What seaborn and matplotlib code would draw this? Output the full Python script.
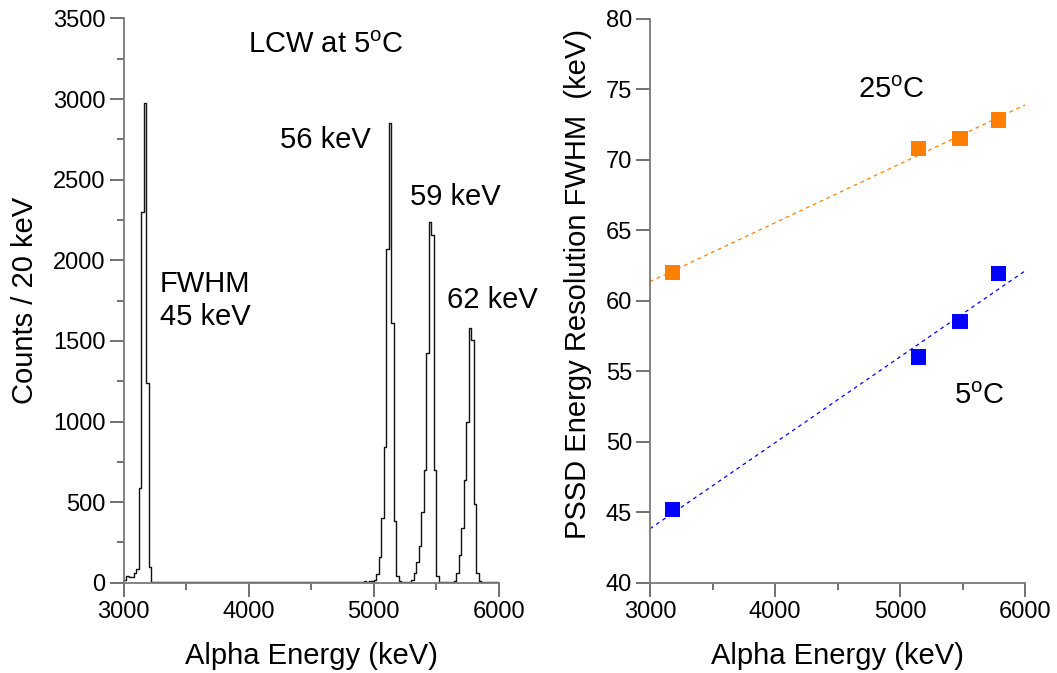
import numpy as np
import pandas as pd
import matplotlib
matplotlib.use("Agg")
import matplotlib.pyplot as plt
from matplotlib.ticker import MultipleLocator
import seaborn as sns

# ---------------- data ----------------
# Left panel: alpha spectrum, 20 keV bins from 3000 to 6000 keV
bin_start = 3000
bin_width = 20
counts = [
    15, 42, 33, 33, 58, 83, 586, 2300, 2975, 1240,      # 3000-3180
    100, 6, 4, 3, 5, 4, 3, 6, 4, 3,                     # 3200-3380
    5, 3, 4, 6, 3, 4, 5, 3, 4, 6,                       # 3400-3580
    3, 5, 4, 3, 6, 4, 3, 5, 4, 3,                       # 3600-3780
    4, 6, 3, 5, 4, 3, 5, 4, 6, 3,                       # 3800-3980
    4, 3, 5, 4, 3, 6, 4, 3, 5, 4,                       # 4000-4180
    3, 5, 4, 6, 3, 4, 5, 3, 4, 3,                       # 4200-4380
    5, 4, 3, 6, 4, 5, 3, 4, 6, 4,                       # 4400-4580
    3, 5, 4, 3, 6, 4, 5, 3, 4, 5,                       # 4600-4780
    4, 6, 5, 4, 7, 5, 8, 7, 10, 12,                     # 4800-4980
    15, 55, 161, 402, 841, 2071, 2852, 1609, 382, 40,   # 5000-5180
    8, 6, 7, 5, 6, 15, 59, 130, 225, 439,               # 5200-5380
    700, 1425, 2238, 2159, 700, 43, 6, 5, 4, 5,         # 5400-5580
    6, 5, 8, 63, 174, 341, 636, 999, 1580, 1508,        # 5600-5780
    491, 63, 8, 5, 4, 6, 5, 4, 7, 5,                    # 5800-5980
]
peak_labels = ["56 keV", "59 keV", "62 keV"]
title_text = "LCW at 5$^{\\rm o}$C"
fwhm_text = "FWHM\n45 keV"

# Right panel: energy resolution vs alpha energy
alpha_energy = [3180, 5150, 5480, 5790]
fwhm_25C = [62.0, 70.8, 71.5, 72.8]
fwhm_5C = [45.2, 56.0, 58.5, 61.9]
series_names = ["25$^{\\rm o}$C", "5$^{\\rm o}$C"]

# ---------------- style ----------------
sns.set_theme(style="ticks")
plt.rcParams["font.family"] = ["Liberation Sans", "DejaVu Sans"]
plt.rcParams["mathtext.fontset"] = "custom"
plt.rcParams["mathtext.rm"] = "Liberation Sans"
plt.rcParams["mathtext.it"] = "Liberation Sans:italic"
plt.rcParams["text.color"] = "black"
plt.rcParams["axes.labelcolor"] = "black"
plt.rcParams["xtick.labelcolor"] = "black"
plt.rcParams["ytick.labelcolor"] = "black"

spine_col = "#7a7a7a"
tick_col = "#4a4a4a"
tick_fs = 17
label_fs = 21
ann_fs = 21

fig = plt.figure(figsize=(10.57, 6.73), dpi=100)
axL = fig.add_axes([123.6 / 1057, 1 - 582.7 / 673, 375 / 1057, 564.2 / 673])
axR = fig.add_axes([650 / 1057, 1 - 582.7 / 673, 375 / 1057, 564.2 / 673])

# ---------------- left: spectrum ----------------
nb = len(counts)
centers = bin_start + bin_width * np.arange(nb) + bin_width / 2
df_spec = pd.DataFrame({"energy": centers, "counts": counts})
sns.histplot(data=df_spec, x="energy", weights="counts", binwidth=bin_width,
             binrange=(bin_start, bin_start + bin_width * nb),
             element="step", fill=False, color="#111111", linewidth=1.0, ax=axL)
axL.set_xlim(3000, 6000)
axL.set_ylim(0, 3500)
axL.xaxis.set_major_locator(MultipleLocator(1000))
axL.xaxis.set_minor_locator(MultipleLocator(500))
axL.yaxis.set_major_locator(MultipleLocator(500))
axL.yaxis.set_minor_locator(MultipleLocator(250))
axL.set_xlabel("Alpha Energy (keV)", fontsize=label_fs, color="black")
axL.set_ylabel("Counts / 20 keV", fontsize=label_fs, color="black")
axL.yaxis.set_label_coords(-0.225, 0.5)
axL.xaxis.set_label_coords(0.5, -0.105)

axL.text(4614, 3336, title_text, fontsize=ann_fs, ha="center", va="center", color="black")
axL.text(4614, 2746, peak_labels[0], fontsize=ann_fs, ha="center", va="center", color="black")
axL.text(5655, 2393, peak_labels[1], fontsize=ann_fs, ha="center", va="center", color="black")
axL.text(5952, 1754, peak_labels[2], fontsize=ann_fs, ha="center", va="center", color="black")
axL.text(3292, 1750, fwhm_text, fontsize=ann_fs, ha="left", va="center",
         linespacing=1.25, color="black")

# ---------------- right: resolution ----------------
df_res = pd.DataFrame({
    "energy": alpha_energy * 2,
    "fwhm": fwhm_25C + fwhm_5C,
    "temp": [series_names[0]] * len(alpha_energy) + [series_names[1]] * len(alpha_energy),
})
colors = {series_names[0]: "#ff7f00", series_names[1]: "#0000ff"}
axR.set_xlim(3000, 6000)
axR.set_ylim(40, 80)
for name in series_names:
    sub = df_res[df_res["temp"] == name]
    sns.regplot(data=sub, x="energy", y="fwhm", ax=axR, ci=None, truncate=False,
                scatter=False, color=colors[name],
                line_kws=dict(linestyle=(0, (3, 3)), linewidth=0.9))
sns.scatterplot(data=df_res, x="energy", y="fwhm", hue="temp", palette=colors,
                marker="s", s=120, linewidth=0, legend=False, ax=axR, zorder=3)
axR.set_xlim(3000, 6000)
axR.set_ylim(40, 80)
axR.xaxis.set_major_locator(MultipleLocator(1000))
axR.xaxis.set_minor_locator(MultipleLocator(500))
axR.yaxis.set_major_locator(MultipleLocator(5))
axR.set_xlabel("Alpha Energy (keV)", fontsize=label_fs, color="black")
axR.set_ylabel("PSSD Energy Resolution FWHM  (keV)", fontsize=label_fs, color="black")
axR.yaxis.set_label_coords(-0.155, 0.53)
axR.xaxis.set_label_coords(0.5, -0.105)

axR.text(4928, 74.94, series_names[0], fontsize=ann_fs, ha="center", va="center", color="black")
axR.text(5632, 53.24, series_names[1], fontsize=ann_fs, ha="center", va="center", color="black")

for ax in (axL, axR):
    sns.despine(ax=ax)
    for sp in ("left", "bottom"):
        ax.spines[sp].set_color(spine_col)
        ax.spines[sp].set_linewidth(1.3)
    ax.tick_params(axis="both", which="major", direction="out", length=10,
                   width=1.1, color=tick_col, labelsize=tick_fs, pad=3,
                   labelcolor="black")
    ax.tick_params(axis="both", which="minor", direction="out", length=5,
                   width=1.1, color=tick_col)
    ax.set_facecolor("white")

fig.savefig("out.png", dpi=100, facecolor="white")
